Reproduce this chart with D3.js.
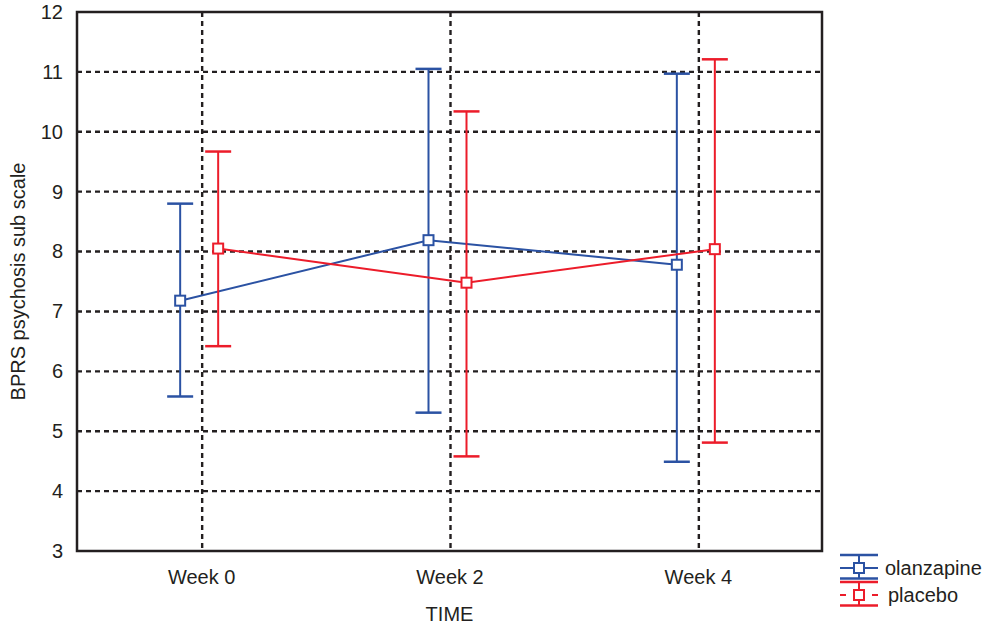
<!DOCTYPE html>
<html>
<head>
<meta charset="utf-8">
<script src="https://cdn.jsdelivr.net/npm/d3@7"></script>
<style>
  body { margin: 0; background: #fff; }
  text { font-family: "Liberation Sans", Arial, sans-serif; fill: #231f20; }
</style>
</head>
<body>
<div id="chart"></div>
<script>
var weeks = ['Week 0', 'Week 2', 'Week 4'];
var yTicks = [3, 4, 5, 6, 7, 8, 9, 10, 11, 12];

var olanzapineMean  = [7.18, 8.19, 7.78];
var olanzapineUpper = [8.80, 11.05, 10.97];
var olanzapineLower = [5.58, 5.31, 4.49];

var placeboMean  = [8.05, 7.48, 8.04];
var placeboUpper = [9.67, 10.34, 11.21];
var placeboLower = [6.42, 4.58, 4.81];

var seriesNames = ['olanzapine', 'placebo'];

var W = 1000, H = 631,
  margin = { top: 12, right: 178, bottom: 80, left: 77 },
  width = W - margin.left - margin.right,
  height = H - margin.top - margin.bottom;

var svg = d3.select('#chart').append('svg')
  .attr('width', W)
  .attr('height', H);

var g = svg.append('g').attr('transform', 'translate(' + margin.left + ',' + margin.top + ')');

var x = d3.scalePoint().domain(weeks).range([0, width]).padding(0.5);
var y = d3.scaleLinear().domain([3, 12]).range([height, 0]);

var series = [
  { name: seriesNames[0], color: '#2b52a3', offset: -21, mean: olanzapineMean, upper: olanzapineUpper, lower: olanzapineLower },
  { name: seriesNames[1], color: '#ec1c2a', offset: 17, mean: placeboMean, upper: placeboUpper, lower: placeboLower }
];

// grid
g.selectAll('.hgrid').data(yTicks.slice(1, -1)).enter().append('line')
  .attr('x1', 0).attr('x2', width)
  .attr('y1', function(d) { return y(d); }).attr('y2', function(d) { return y(d); })
  .attr('stroke', '#231f20').attr('stroke-width', 2.4).attr('stroke-dasharray', '5,4');
g.selectAll('.vgrid').data(weeks).enter().append('line')
  .attr('x1', function(d) { return x(d) + 1; }).attr('x2', function(d) { return x(d) + 1; })
  .attr('y1', 0).attr('y2', height)
  .attr('stroke', '#231f20').attr('stroke-width', 2.4).attr('stroke-dasharray', '5,4');

// axes (labels only, frame drawn separately)
var yAxis = g.append('g').call(d3.axisLeft(y).tickValues(yTicks).tickSize(0).tickPadding(14));
yAxis.select('.domain').remove();
yAxis.selectAll('text').attr('font-size', 20).attr('font-family', '"Liberation Sans", Arial, sans-serif').attr('fill', '#231f20');

var xAxis = g.append('g').attr('transform', 'translate(0,' + height + ')')
  .call(d3.axisBottom(x).tickSize(0).tickPadding(19));
xAxis.select('.domain').remove();
xAxis.selectAll('text').attr('font-size', 20).attr('font-family', '"Liberation Sans", Arial, sans-serif').attr('fill', '#231f20');

g.append('rect').attr('x', 0).attr('y', 0).attr('width', width).attr('height', height)
  .attr('fill', 'none').attr('stroke', '#231f20').attr('stroke-width', 2.5);

// titles
svg.append('text')
  .attr('transform', 'translate(18,' + (margin.top + height / 2) + ') rotate(-90)')
  .attr('text-anchor', 'middle').attr('dy', '0.35em')
  .attr('font-size', 20).text('BPRS psychosis sub scale');
svg.append('text')
  .attr('x', margin.left + width / 2).attr('y', 621)
  .attr('text-anchor', 'middle').attr('font-size', 20).text('TIME');

var capW = 13, sq = 10;

series.forEach(function(s) {
  var px = function(i) { return x(weeks[i]) + s.offset; };
  var sg = g.append('g');
  var line = d3.line().x(function(d, i) { return px(i); }).y(function(d) { return y(d); });
  sg.append('path').datum(s.mean).attr('d', line)
    .attr('fill', 'none').attr('stroke', s.color).attr('stroke-width', 2);
  weeks.forEach(function(w, i) {
    sg.append('line').attr('x1', px(i)).attr('x2', px(i))
      .attr('y1', y(s.upper[i])).attr('y2', y(s.lower[i]))
      .attr('stroke', s.color).attr('stroke-width', 2);
    [s.upper[i], s.lower[i]].forEach(function(v) {
      sg.append('line').attr('x1', px(i) - capW).attr('x2', px(i) + capW)
        .attr('y1', y(v)).attr('y2', y(v))
        .attr('stroke', s.color).attr('stroke-width', 2.5);
    });
    sg.append('rect').attr('x', px(i) - sq / 2).attr('y', y(s.mean[i]) - sq / 2)
      .attr('width', sq).attr('height', sq)
      .attr('fill', '#fff').attr('stroke', s.color).attr('stroke-width', 2);
  });
});

// legend
var legend = svg.append('g').attr('transform', 'translate(859,568)');
series.forEach(function(s, i) {
  var lg = legend.append('g').attr('transform', 'translate(0,' + (i * 27) + ')');
  lg.append('line').attr('x1', -19).attr('x2', 19).attr('y1', -13).attr('y2', -13)
    .attr('stroke', s.color).attr('stroke-width', 2.5);
  lg.append('line').attr('x1', -19).attr('x2', 19).attr('y1', 10.5).attr('y2', 10.5)
    .attr('stroke', s.color).attr('stroke-width', 2.5);
  lg.append('line').attr('x1', 0).attr('x2', 0).attr('y1', -13).attr('y2', 10.5)
    .attr('stroke', s.color).attr('stroke-width', 2);
  lg.append('line').attr('x1', -19).attr('x2', 19).attr('y1', 0).attr('y2', 0)
    .attr('stroke', s.color).attr('stroke-width', 2)
    .attr('stroke-dasharray', i === 1 ? '6,26' : null);
  lg.append('rect').attr('x', -5).attr('y', -5).attr('width', 10).attr('height', 10)
    .attr('fill', '#fff').attr('stroke', s.color).attr('stroke-width', 2);
  lg.append('text').attr('x', 26 + i * 3).attr('y', 0).attr('dy', '0.35em')
    .attr('font-size', 20).text(s.name);
});
</script>
</body>
</html>
